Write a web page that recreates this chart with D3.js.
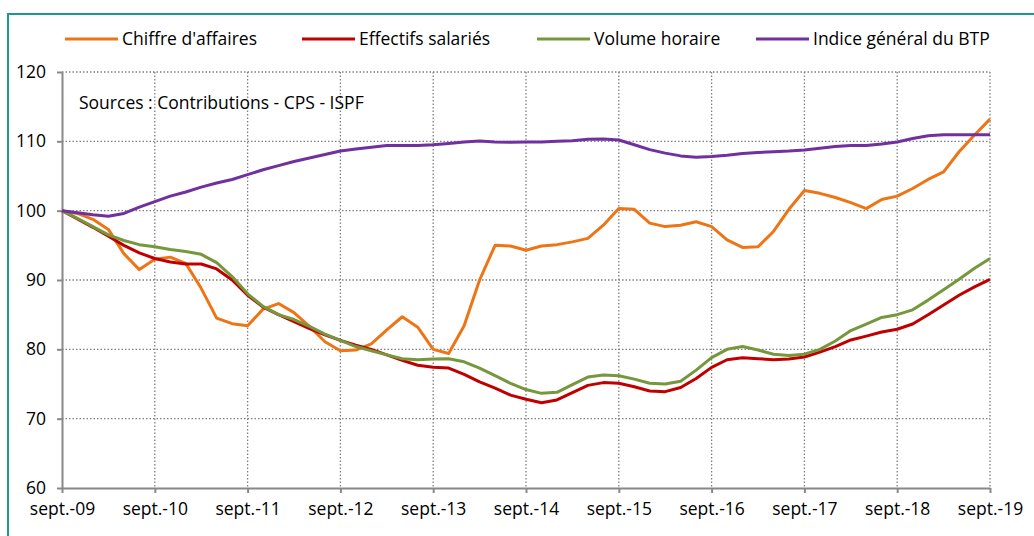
<!DOCTYPE html>
<html><head><meta charset="utf-8">
<script src="https://cdn.jsdelivr.net/npm/d3@7"></script>
<style>
html,body{margin:0;padding:0;background:#fff;}
svg{display:block;}
text{font-family:"Open Sans","Noto Sans",sans-serif;fill:#000;}
</style></head>
<body>
<svg id="chart" width="1034" height="536"></svg>
<script>
// Bi-monthly index (base 100 = sept. 2009)
const tickLabels = ["sept.-09","sept.-10","sept.-11","sept.-12","sept.-13","sept.-14","sept.-15","sept.-16","sept.-17","sept.-18","sept.-19"];
const yTicks = [60,70,80,90,100,110,120];
const seriesNames = ["Chiffre d'affaires","Effectifs salariés","Volume horaire","Indice général du BTP"];
const chiffreAffaires = [100,99.6,98.75,97.3,93.8,91.5,93.0,93.3,92.4,88.8,84.5,
  83.7,83.4,85.8,86.6,85.3,83.3,81.1,79.8,79.9,80.8,
  82.8,84.7,83.2,80.0,79.4,83.4,90.0,95.0,94.9,94.3,
  94.9,95.1,95.5,96.0,97.9,100.3,100.2,98.2,97.7,97.9,
  98.4,97.7,95.8,94.7,94.8,97.0,100.2,102.9,102.5,101.9,
  101.15,100.3,101.6,102.1,103.2,104.5,105.6,108.5,110.9,113.2];
const effectifs = [100,98.8,97.6,96.3,95.0,93.9,93.1,92.6,92.3,92.3,91.6,
  90.0,87.8,86.1,85.0,84.0,83.0,82.1,81.3,80.6,80.0,
  79.2,78.4,77.7,77.4,77.3,76.4,75.3,74.4,73.4,72.8,
  72.3,72.7,73.75,74.8,75.2,75.1,74.6,74.0,73.9,74.5,
  75.8,77.4,78.5,78.8,78.65,78.5,78.6,78.9,79.6,80.4,
  81.35,81.9,82.5,82.9,83.65,85.0,86.4,87.8,89.0,90.1];
const volumeHoraire = [100,98.9,97.7,96.5,95.7,95.1,94.8,94.4,94.1,93.7,92.5,
  90.5,88.0,86.2,85.0,84.3,83.3,82.2,81.3,80.4,79.8,
  79.2,78.65,78.5,78.6,78.65,78.2,77.3,76.2,75.1,74.2,
  73.65,73.8,74.9,76.0,76.3,76.2,75.7,75.1,75.0,75.4,
  77.0,78.8,80.0,80.4,79.9,79.3,79.1,79.3,80.0,81.2,
  82.7,83.65,84.6,85.0,85.7,87.1,88.6,90.1,91.7,93.1];
const indiceBTP = [100,99.7,99.4,99.2,99.6,100.5,101.3,102.1,102.7,103.4,104.0,
  104.5,105.2,105.9,106.5,107.1,107.6,108.1,108.6,108.9,109.15,
  109.4,109.4,109.4,109.5,109.7,109.9,110.05,109.9,109.85,109.9,
  109.9,110.0,110.1,110.3,110.35,110.2,109.5,108.8,108.3,107.9,
  107.7,107.8,108.0,108.25,108.4,108.5,108.6,108.75,109.0,109.25,
  109.4,109.4,109.6,109.9,110.4,110.8,110.96,110.96,110.96,110.96];
const colors = ["#ED7516","#C00000","#77973D","#7030A0"];

const FS = 17.5;
const svg = d3.select("#chart");
const allSeries = [chiffreAffaires, effectifs, volumeHoraire, indiceBTP];
const n = chiffreAffaires.length;
const perYear = (n - 1) / (tickLabels.length - 1);

const x = d3.scaleLinear().domain([0, n - 1]).range([62, 990]);
const y = d3.scaleLinear().domain([60, 120]).range([488, 72]);

// frame
svg.append("rect").attr("x", 8).attr("y", 14).attr("width", 1040).attr("height", 540)
  .attr("fill", "none").attr("stroke", "#1A9A8A").attr("stroke-width", 2);

const yearIdx = tickLabels.map((d, i) => i * perYear);

// grid
const grid = svg.append("g").attr("stroke", "#808080").attr("stroke-width", 1.3).attr("stroke-dasharray", "1.5,2");
grid.selectAll("line.h").data(yTicks.filter(v => v > 60)).join("line")
  .attr("x1", 62).attr("x2", 990).attr("y1", d => y(d)).attr("y2", d => y(d));
grid.selectAll("line.v").data(yearIdx.filter(v => v > 0)).join("line").attr("class","v")
  .attr("x1", d => x(d)).attr("x2", d => x(d)).attr("y1", 72).attr("y2", 488);

// axes
const yAxis = d3.axisLeft(y).tickValues(yTicks).tickSizeInner(5).tickSizeOuter(0).tickPadding(11);
const gy = svg.append("g").attr("transform", "translate(62,0)").call(yAxis);
const xAxis = d3.axisBottom(x).tickValues(yearIdx).tickFormat((d, i) => tickLabels[i])
  .tickSizeInner(5).tickSizeOuter(0).tickPadding(10);
const gx = svg.append("g").attr("transform", "translate(0,488)").call(xAxis);
[gx, gy].forEach(g => {
  g.selectAll("path.domain").attr("stroke", "#888").attr("stroke-width", 2);
  g.selectAll(".tick line").attr("stroke", "#888").attr("stroke-width", 2);
  g.selectAll("text").style("font-family", '"Open Sans","Noto Sans",sans-serif').attr("font-size", FS).attr("fill", "#000");
});

// lines
const line = d3.line().x((d, i) => x(i)).y(d => y(d));
allSeries.forEach((s, k) => {
  svg.append("path").datum(s).attr("d", line).attr("fill", "none")
    .attr("stroke", colors[k]).attr("stroke-width", 3).attr("stroke-linejoin", "round");
});

// sources
svg.append("text").attr("x", 79).attr("y", 109).attr("font-size", FS).text("Sources : Contributions - CPS - ISPF");

// legend
const legX = [65, 302, 537, 756];
const leg = svg.append("g");
seriesNames.forEach((name, k) => {
  leg.append("line").attr("x1", legX[k]).attr("x2", legX[k] + 53).attr("y1", 39).attr("y2", 39)
    .attr("stroke", colors[k]).attr("stroke-width", 3);
  leg.append("text").attr("x", legX[k] + 57).attr("y", 45).attr("font-size", FS).text(name);
});
</script>
</body></html>
